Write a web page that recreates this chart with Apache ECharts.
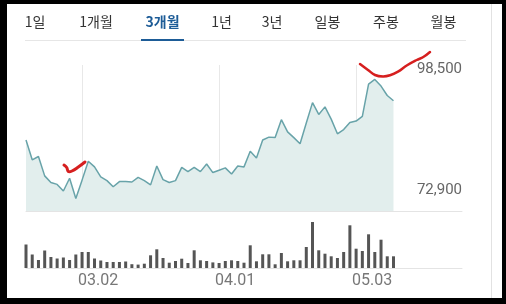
<!DOCTYPE html>
<html>
<head>
<meta charset="utf-8">
<script src="https://cdn.jsdelivr.net/npm/echarts@6/dist/echarts.min.js"></script>
<style>
html,body{margin:0;padding:0;background:#000;width:506px;height:304px;overflow:hidden;}
#panel{position:absolute;left:7px;top:4px;width:495px;height:294px;background:#fff;}
#chart{position:absolute;left:0;top:0;width:506px;height:304px;}
</style>
</head>
<body>
<div id="panel"></div>
<div id="chart"></div>
<script>
// ---- data ----
const tabs = ['1일','1개월','3개월','1년','3년','일봉','주봉','월봉'];
const selectedTab = '3개월';
const dates = [
 '02.16','02.17','02.18','02.19','02.22','02.23','02.24','02.25','02.26',
 '03.02','03.03','03.04','03.05','03.08','03.09','03.10','03.11','03.12','03.15','03.16','03.17','03.18','03.19','03.22','03.23','03.24','03.25','03.26','03.29','03.30','03.31',
 '04.01','04.02','04.05','04.06','04.07','04.08','04.09','04.12','04.13','04.14','04.15','04.16','04.19','04.20','04.21','04.22','04.23','04.26','04.27','04.28','04.29','04.30',
 '05.03','05.04','05.06','05.07','05.10','05.11','05.12'
];
const closePrices = [
 85500,81300,82000,77900,76500,76100,74700,77400,73100,
 77000,81000,79800,77700,76900,75600,76700,76700,76600,77600,76900,76000,80000,77100,76500,76900,79700,78800,79700,78800,80400,78600,
 79100,79600,78300,80000,79800,83100,81700,85500,86100,86000,89800,87200,86000,84700,89100,93400,90900,92500,89900,86800,87700,89200,
 89500,90500,97300,98300,96900,94900,93800
];
const volumes = [
 2350,1350,800,1750,1100,950,1050,800,1350,
 1600,1600,950,750,600,600,600,650,380,340,430,1270,1870,1000,530,700,930,500,1770,770,700,560,
 500,700,770,700,530,2270,670,1370,1370,370,1500,670,770,770,2100,4600,1770,1430,1170,1000,1600,4270,
 1930,1700,3370,1600,2830,1170,1170
];
const markedDates = ['03.02','04.01','05.03'];
const highLabel = 98500;
const lowLabel = 72900;
const padSlots = 11;

// ---- chart ----
const cats = dates.concat(new Array(padSlots).fill(''));
const isMarked = (i, v) => markedDates.indexOf(cats[i]) >= 0;
const chart = echarts.init(document.getElementById('chart'), null, {renderer:'canvas'});

const tabCenters = [35, 96, 162.5, 221.5, 272, 327.5, 386, 443.5];
const graphics = [];
tabs.forEach((t, i) => {
  const sel = t === selectedTab;
  graphics.push({
    type:'text', x: tabCenters[i], y: 22,
    style:{text:t, x:0, y:0, textAlign:'center', textVerticalAlign:'middle',
      font:(sel?'bold ':'')+'14px "Noto Sans CJK KR", sans-serif',
      fill: sel ? '#1d5c97' : '#333'}
  });
});
graphics.push({type:'line', shape:{x1:25,y1:40.5,x2:466,y2:40.5}, style:{stroke:'#e6e6e6', lineWidth:1}});
graphics.push({type:'rect', shape:{x:141,y:39,width:43,height:2}, style:{fill:'#1d5c97'}});
graphics.push({type:'line', shape:{x1:491.5,y1:4,x2:491.5,y2:298}, style:{stroke:'#e2e2e2', lineWidth:1}});
// red hand-drawn annotations
graphics.push({type:'polyline', z:100, shape:{smooth:0.4, points:[[64,165],[66.7,167.5],[68.3,171.5],[72,171],[78.3,167],[85,162]]},
  style:{stroke:'#d61f1f', lineWidth:3, fill:null, lineCap:'round'}});
graphics.push({type:'polyline', z:100, shape:{smooth:0.4, points:[[360,64],[368,70],[375,75],[383,76.5],[390,75.3],[398,71.7],[406.7,65.5],[416.7,60],[423.3,57],[430,52]]},
  style:{stroke:'#d61f1f', lineWidth:2.5, fill:null, lineCap:'round'}});

chart.setOption({
  animation:false,
  backgroundColor:'transparent',
  graphic: graphics,
  grid:[
    {left:26, right:44, top:65, bottom:93},
    {left:26, right:44, top:220, bottom:36}
  ],
  xAxis:[
    {type:'category', gridIndex:0, data:cats, boundaryGap:false,
     axisLine:{show:true, lineStyle:{color:'#e4e4e4'}}, axisTick:{show:false}, axisLabel:{show:false},
     splitLine:{show:true, interval:isMarked, lineStyle:{color:'#e8e8e8', width:1}}},
    {type:'category', gridIndex:1, data:cats, boundaryGap:false,
     axisLine:{show:true, lineStyle:{color:'#e4e4e4'}}, axisTick:{show:false},
     axisLabel:{show:true, interval:isMarked, align:'left', margin:5, padding:[0,0,0,-4],
       color:'#777', fontSize:16, fontFamily:'Roboto'},
     splitLine:{show:false}}
  ],
  yAxis:[
    {type:'value', gridIndex:0, position:'right', min:70470, max:101360,
     axisLine:{show:false}, axisTick:{show:false}, splitLine:{show:false},
     axisLabel:{show:true, inside:true, margin:0, customValues:[lowLabel, highLabel],
       verticalAlign:'bottom', padding:[0,0,2,0],
       formatter:v => Number(v).toLocaleString('en-US'), color:'#666', fontSize:15, fontFamily:'Roboto'}},
    {type:'value', gridIndex:1, min:0, max:4800, show:false}
  ],
  series:[
    {type:'line', xAxisIndex:0, yAxisIndex:0, data:closePrices, symbol:'none',
     lineStyle:{color:'#68a3a9', width:1.5}, areaStyle:{color:'#e2eeed', origin:'start', opacity:1}},
    {type:'bar', xAxisIndex:1, yAxisIndex:1, data:volumes, barWidth:3, clip:false,
     itemStyle:{color:'#555'}}
  ]
});
</script>
</body>
</html>
